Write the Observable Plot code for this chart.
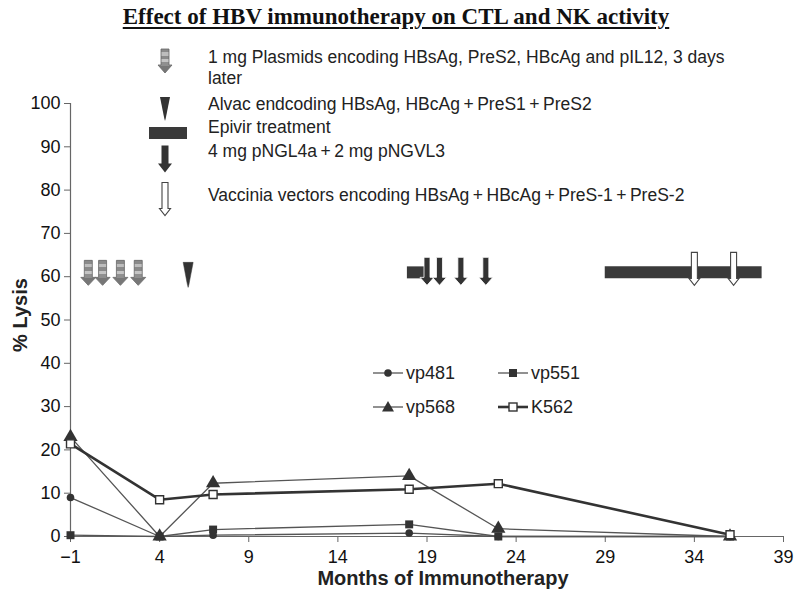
<!DOCTYPE html>
<html>
<head>
<meta charset="utf-8">
<script src="https://cdn.jsdelivr.net/npm/d3@7"></script>
<script src="https://cdn.jsdelivr.net/npm/@observablehq/plot@0.6"></script>
<style>
  html, body { margin: 0; padding: 0; background: #fff; }
  #wrap { position: relative; width: 800px; height: 606px; overflow: hidden; font-family: "Liberation Sans", Arial, sans-serif; color: #222; }
  #wrap svg.plot { position: absolute; left: 0; top: 0; }
  .abs { position: absolute; white-space: nowrap; }
  #title { left: 0; width: 792px; top: 4px; text-align: center; font: bold 23px "Liberation Serif", "Times New Roman", serif; text-decoration: underline; text-underline-offset: 3px; color: #111; }
  .key { font-size: 17.5px; line-height: 21px; }
  .leg { font-size: 18px; line-height: 20px; }
  #ylabel { left: 20px; top: 315px; transform: translate(-50%, -50%) rotate(-90deg); font-weight: bold; font-size: 20px; }
  #xlabel { left: 443px; top: 578px; transform: translate(-50%, -50%); font-weight: bold; font-size: 20px; }
</style>
</head>
<body>
<div id="wrap"></div>
<script>
// ---------- data ----------
const months = [-1, 4, 7, 18, 23, 36];
const vp481 = [9, 0, 0.3, 0.8, 0, 0];
const vp551 = [0.3, 0, 1.6, 2.8, 0, 0];
const vp568 = [23, 0, 12.3, 14, 1.8, 0];
const k562 = [21.4, 8.5, 9.7, 10.9, 12.2, 0.4];
const seriesNames = ["vp481", "vp551", "vp568", "K562"];
const xTicks = [-1, 4, 9, 14, 19, 24, 29, 34, 39];
const yTicks = [0, 10, 20, 30, 40, 50, 60, 70, 80, 90, 100];

// treatment events (months)
const plasmidMonths = [0, 0.8, 1.8, 2.8];
const alvacMonths = [5.6];
const epivirStart = [17.9, 29.0];
const epivirEnd = [19.0, 37.8];
const pngMonths = [19.0, 19.7, 20.9, 22.3];
const vacciniaMonths = [34.0, 36.2];
const treatmentRow = 61; // % Lysis level where the treatment row is drawn

const keyTexts = [
  "1 mg Plasmids encoding HBsAg, PreS2, HBcAg and pIL12, 3 days",
  "later",
  "Alvac endcoding HBsAg, HBcAg\u2009+\u2009PreS1\u2009+\u2009PreS2",
  "Epivir treatment",
  "4 mg pNGL4a\u2009+\u20092 mg pNGVL3",
  "Vaccinia vectors encoding HBsAg\u2009+\u2009HBcAg\u2009+\u2009PreS-1\u2009+\u2009PreS-2"
];

// ---------- table ----------
const values = {vp481, vp551, vp568, K562: k562};
const rows = seriesNames.flatMap(s => months.map((m, i) => ({series: s, month: m, lysis: values[s][i]})));
const epivir = epivirStart.map((s, i) => ({start: s, end: epivirEnd[i]}));

// ---------- custom glyphs ----------
function blockArrow(shaft, head, H, headLen, tip) {
  return {draw(ctx) {
    const top = tip - H, neck = tip - headLen;
    ctx.moveTo(-shaft / 2, top);
    ctx.lineTo(shaft / 2, top);
    ctx.lineTo(shaft / 2, neck);
    ctx.lineTo(head / 2, neck);
    ctx.lineTo(0, tip);
    ctx.lineTo(-head / 2, neck);
    ctx.lineTo(-shaft / 2, neck);
    ctx.closePath();
  }};
}
function wedge(w, H, tip) {
  return {draw(ctx) {
    ctx.moveTo(-w / 2, tip - H);
    ctx.lineTo(w / 2, tip - H);
    ctx.lineTo(0.8, tip - 3);
    ctx.lineTo(0, tip);
    ctx.lineTo(-0.8, tip - 3);
    ctx.closePath();
  }};
}
const grayArrow = blockArrow(8, 15, 25, 8, 13);
const blackArrow = blockArrow(6, 14, 28, 8, 13);
const whiteArrow = blockArrow(6, 11, 33, 7, 13);
const alvacWedge = wedge(10, 25, 15);

// ---------- chart ----------
const thin = rows.filter(d => d.series !== "K562");
const bySeries = s => rows.filter(d => d.series === s);

const chart = Plot.plot({
  width: 800,
  height: 606,
  marginTop: 103,
  marginBottom: 70,
  marginLeft: 70,
  marginRight: 17,
  style: {fontFamily: "'Liberation Sans', Arial, sans-serif", fontSize: "18px", color: "#111", background: "transparent"},
  x: {domain: [-1, 39]},
  y: {domain: [0, 100]},
  marks: [
    Plot.axisX({ticks: xTicks, tickSize: 6, tickPadding: 8, label: null, stroke: "#666"}),
    Plot.axisY({ticks: yTicks, tickSize: 6, tickPadding: 4, label: null, stroke: "#666"}),
    Plot.ruleX([-1], {stroke: "#666", strokeWidth: 1.2}),
    Plot.ruleY([0], {stroke: "#666", strokeWidth: 1.2}),
    // treatment row
    Plot.ruleY(epivir, {y: () => treatmentRow, x1: "start", x2: "end", stroke: "#3a3a3a", strokeWidth: 12}),
    Plot.dot(plasmidMonths, {x: d => d, y: () => treatmentRow, symbol: grayArrow, fill: "url(#hbvStripes)", stroke: "#666", strokeWidth: 0.8}),
    Plot.dot(alvacMonths, {x: d => d, y: () => treatmentRow, symbol: alvacWedge, fill: "#333", stroke: "#333", strokeWidth: 0.5}),
    Plot.dot(pngMonths, {x: d => d, y: () => treatmentRow, symbol: blackArrow, fill: "#333", stroke: "#fff", strokeWidth: 0.8}),
    Plot.dot(vacciniaMonths, {x: d => d, y: () => treatmentRow, symbol: whiteArrow, fill: "#fff", stroke: "#444", strokeWidth: 1.1}),
    // series
    Plot.line(thin, {x: "month", y: "lysis", z: "series", stroke: "#555", strokeWidth: 1.3}),
    Plot.line(bySeries("K562"), {x: "month", y: "lysis", stroke: "#333", strokeWidth: 2.6}),
    Plot.dot(bySeries("vp481"), {x: "month", y: "lysis", symbol: "circle", r: 3.8, fill: "#333"}),
    Plot.dot(bySeries("vp551"), {x: "month", y: "lysis", symbol: "square", r: 4.5, fill: "#333"}),
    Plot.dot(bySeries("vp568"), {x: "month", y: "lysis", symbol: "triangle", r: 5.3, fill: "#333"}),
    Plot.dot(bySeries("K562"), {x: "month", y: "lysis", symbol: "square", r: 4.5, fill: "#fff", stroke: "#333", strokeWidth: 1.4})
  ]
});
chart.insertAdjacentHTML("afterbegin",
  `<defs><linearGradient id="hbvStripes" x1="0" y1="0" x2="0" y2="1">
    <stop offset="0" stop-color="#8a8a8a"/><stop offset="0.14" stop-color="#8a8a8a"/>
    <stop offset="0.14" stop-color="#bdbdbd"/><stop offset="0.28" stop-color="#bdbdbd"/>
    <stop offset="0.28" stop-color="#8a8a8a"/><stop offset="0.42" stop-color="#8a8a8a"/>
    <stop offset="0.42" stop-color="#c4c4c4"/><stop offset="0.56" stop-color="#c4c4c4"/>
    <stop offset="0.56" stop-color="#8f8f8f"/><stop offset="0.7" stop-color="#8f8f8f"/>
    <stop offset="0.7" stop-color="#777"/><stop offset="1" stop-color="#777"/>
  </linearGradient></defs>`);

const wrap = document.getElementById("wrap");
wrap.appendChild(chart);

// ---------- html text & keys ----------
function add(html, cls, style) {
  const d = document.createElement("div");
  d.className = "abs " + (cls || "");
  if (style) d.setAttribute("style", style);
  d.innerHTML = html;
  wrap.appendChild(d);
  return d;
}
add("Effect of HBV immunotherapy on CTL and NK activity", "", "").id = "title";
add("% Lysis", "").id = "ylabel";
add("Months of Immunotherapy", "").id = "xlabel";

// treatment key
const keyTops = [47, 68, 94, 117, 141, 185];
keyTexts.forEach((t, i) => add(t, "key", `left:208px;top:${keyTops[i]}px;`));

function glyphSvg(sym, w, h, attrs, extra) {
  const path = d3.path();
  sym.draw(path);
  return `<svg width="${w}" height="${h}" viewBox="${-w/2} ${-h/2} ${w} ${h}" style="display:block;overflow:visible">${extra || ""}<path d="${path}" ${attrs}/></svg>`;
}
const stripeDefs = `<defs><linearGradient id="hbvStripesKey" x1="0" y1="0" x2="0" y2="1">
    <stop offset="0" stop-color="#8a8a8a"/><stop offset="0.14" stop-color="#8a8a8a"/>
    <stop offset="0.14" stop-color="#bdbdbd"/><stop offset="0.28" stop-color="#bdbdbd"/>
    <stop offset="0.28" stop-color="#8a8a8a"/><stop offset="0.42" stop-color="#8a8a8a"/>
    <stop offset="0.42" stop-color="#c4c4c4"/><stop offset="0.56" stop-color="#c4c4c4"/>
    <stop offset="0.56" stop-color="#8f8f8f"/><stop offset="0.7" stop-color="#8f8f8f"/>
    <stop offset="0.7" stop-color="#777"/><stop offset="1" stop-color="#777"/>
  </linearGradient></defs>`;
// icons: centre x 165
add(glyphSvg(blockArrow(8, 14, 24, 8, 12), 20, 30, 'fill="url(#hbvStripesKey)" stroke="#666" stroke-width="0.8"', stripeDefs), "", "left:155px;top:46px;");
add(glyphSvg(wedge(10, 24, 12), 20, 30, 'fill="#333"'), "", "left:155px;top:94px;");
add(`<div style="width:38px;height:12px;background:#3a3a3a"></div>`, "", "left:149px;top:127px;");
add(glyphSvg(blockArrow(7, 14, 27, 9, 13.5), 20, 30, 'fill="#333"'), "", "left:155px;top:144px;");
add(glyphSvg(blockArrow(6, 11, 33, 7, 16.5), 20, 36, 'fill="#fff" stroke="#444" stroke-width="1.1"'), "", "left:155px;top:181px;");

// series legend (inside plot)
const legSym = {
  vp481: `<circle r="3.8" fill="#333"/>`,
  vp551: `<rect x="-4" y="-4" width="8" height="8" fill="#333"/>`,
  vp568: `<path d="M0,-6L6,4.5L-6,4.5Z" fill="#333"/>`,
  K562: `<rect x="-4" y="-4" width="8" height="8" fill="#fff" stroke="#333" stroke-width="1.4"/>`
};
const legPos = [[373, 373], [498, 373], [373, 407], [498, 407]];
seriesNames.forEach((s, i) => {
  const [lx, ly] = legPos[i];
  const sw = s === "K562" ? 2.6 : 1.3;
  const col = s === "K562" ? "#333" : "#555";
  add(`<svg width="30" height="16" viewBox="-15 -8 30 16" style="display:block;overflow:visible"><line x1="-15" x2="15" stroke="${col}" stroke-width="${sw}"/>${legSym[s]}</svg>`, "", `left:${lx}px;top:${ly - 8}px;`);
  add(s, "leg", `left:${lx + 33}px;top:${ly - 10}px;`);
});
</script>
</body>
</html>
